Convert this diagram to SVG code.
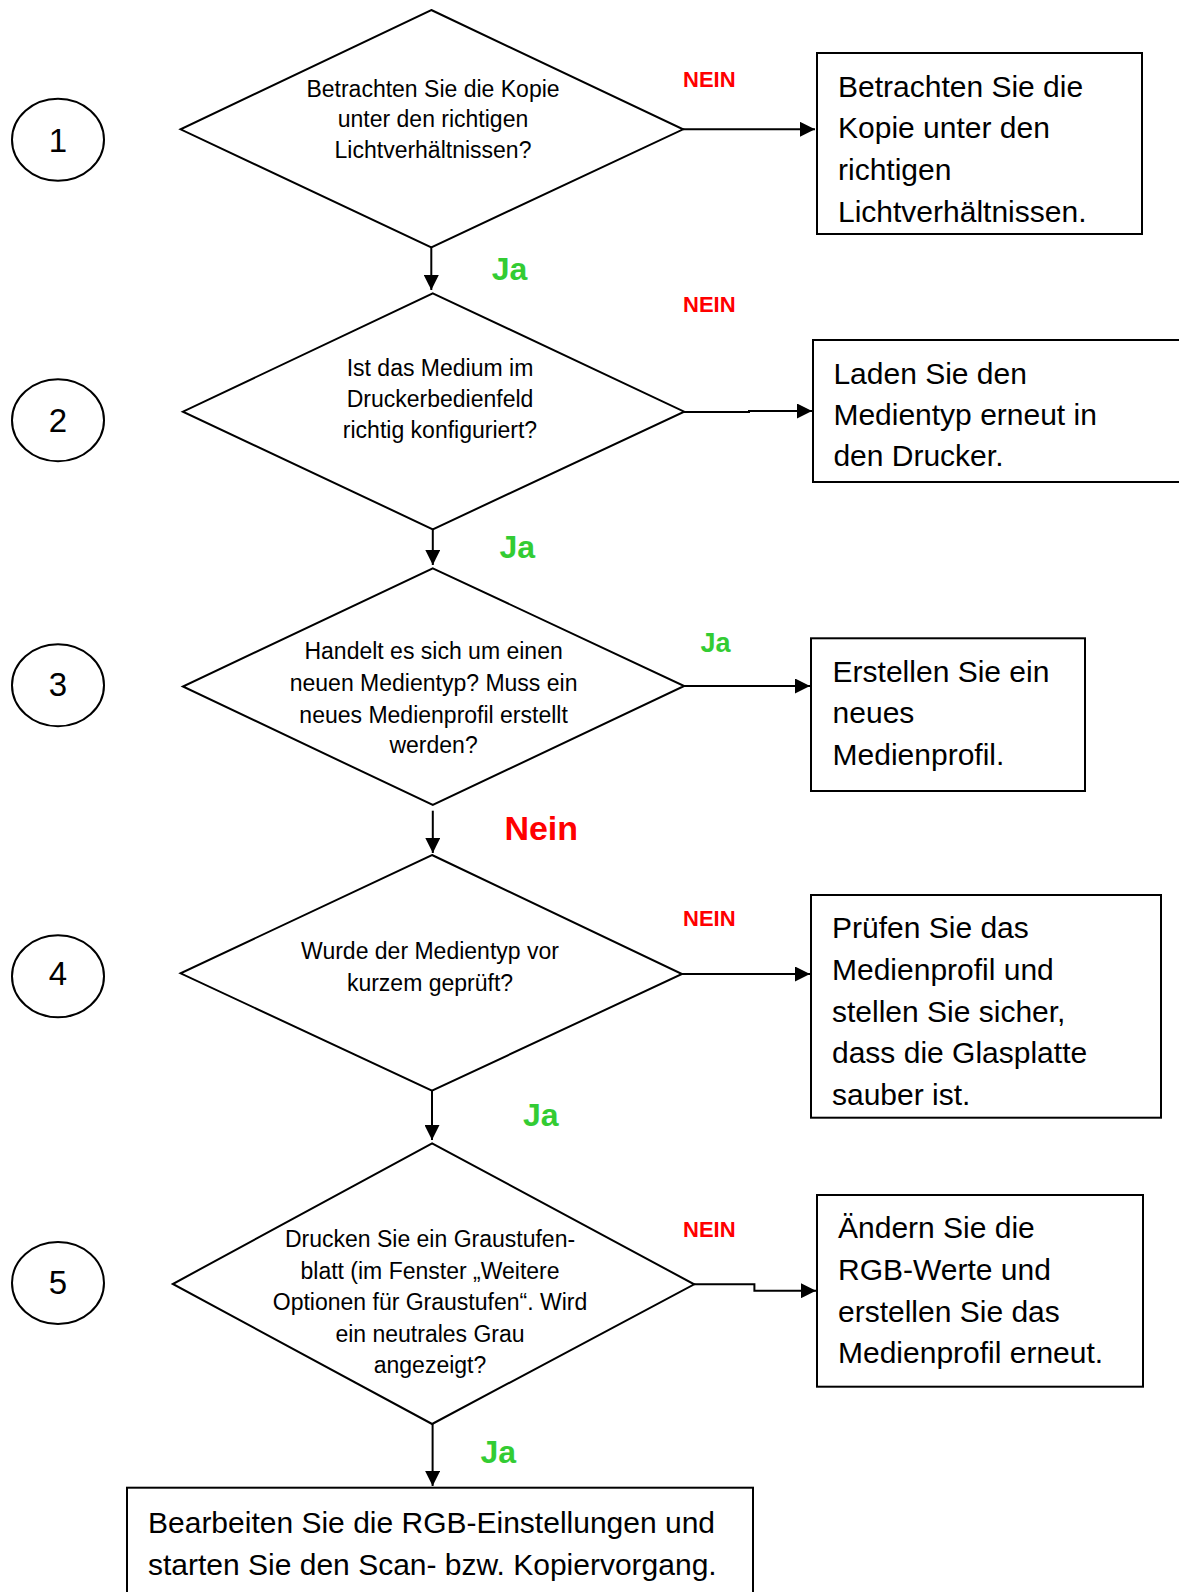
<svg xmlns="http://www.w3.org/2000/svg" width="1179" height="1592" viewBox="0 0 1179 1592">
<style>
.s{fill:none;stroke:#000;stroke-width:2}
.c{fill:none;stroke:#000;stroke-width:2}
text{font-family:"Liberation Sans",Arial,sans-serif;fill:#000}
.dt{font-size:23px;text-anchor:middle}
.bt{font-size:30px}
.num{font-size:33px;text-anchor:middle}
.no{font-size:22px;font-weight:bold;fill:#f00}
.nein{font-size:34px;font-weight:bold;fill:#f00}
.yes{font-weight:bold;fill:#33cc33}
</style>
<defs>
<marker id="ah" viewBox="0 0 15 15" refX="15" refY="7.5" markerWidth="15" markerHeight="15" markerUnits="userSpaceOnUse" orient="auto">
<path d="M0,0 L15,7.5 L0,15 z" fill="#000"/>
</marker>
</defs>
<rect width="1179" height="1592" fill="#fff"/>

<g id="step1"><ellipse class="s" cx="58" cy="139.7" rx="46" ry="41"/><text class="num" x="58" y="152">1</text></g>
<g id="step2"><ellipse class="s" cx="58" cy="420.3" rx="46" ry="41"/><text class="num" x="58" y="432">2</text></g>
<g id="step3"><ellipse class="s" cx="58" cy="685.3" rx="46" ry="41"/><text class="num" x="58" y="696">3</text></g>
<g id="step4"><ellipse class="s" cx="58" cy="976.3" rx="46" ry="41"/><text class="num" x="58" y="985">4</text></g>
<g id="step5"><ellipse class="s" cx="58" cy="1283" rx="46" ry="41"/><text class="num" x="58" y="1294">5</text></g>

<g id="d1"><polygon class="s" points="431.3,10 683.1,129.3 431.3,247.3 180.6,129.3"/>
<text class="dt" x="433" y="96.7">Betrachten Sie die Kopie</text>
<text class="dt" x="433" y="127">unter den richtigen</text>
<text class="dt" x="433" y="158">Lichtverhältnissen?</text></g>

<g id="d2"><polygon class="s" points="432.8,293.3 684.2,411.7 432.8,529.3 182.9,411.7"/>
<text class="dt" x="440" y="376">Ist das Medium im</text>
<text class="dt" x="440" y="407.3">Druckerbedienfeld</text>
<text class="dt" x="440" y="438.3">richtig konfiguriert?</text></g>

<g id="d3"><polygon class="s" points="432.8,568.3 684.2,686 432.8,805 182.9,686.5"/>
<text class="dt" x="433.6" y="659.3">Handelt es sich um einen</text>
<text class="dt" x="433.6" y="691">neuen Medientyp? Muss ein</text>
<text class="dt" x="433.6" y="722.7">neues Medienprofil erstellt</text>
<text class="dt" x="433.6" y="753.3">werden?</text></g>

<g id="d4"><polygon class="s" points="432,855 682,974 432,1090.7 180.6,973.3"/>
<text class="dt" x="430" y="959.3">Wurde der Medientyp vor</text>
<text class="dt" x="430" y="990.7">kurzem geprüft?</text></g>

<g id="d5"><polygon class="s" points="432.1,1143.3 694.2,1284.3 432.1,1424 172.8,1284"/>
<text class="dt" x="430" y="1247.3">Drucken Sie ein Graustufen-</text>
<text class="dt" x="430" y="1279">blatt (im Fenster „Weitere</text>
<text class="dt" x="430" y="1310">Optionen für Graustufen“. Wird</text>
<text class="dt" x="430" y="1341.7">ein neutrales Grau</text>
<text class="dt" x="430" y="1372.7">angezeigt?</text></g>

<g id="b1"><rect class="s" x="817" y="53" width="325" height="181"/>
<text class="bt" x="838" y="96.7">Betrachten Sie die</text>
<text class="bt" x="838" y="138.3">Kopie unter den</text>
<text class="bt" x="838" y="180">richtigen</text>
<text class="bt" x="838" y="221.7">Lichtverhältnissen.</text></g>

<g id="b2"><rect class="s" x="813" y="340" width="380" height="142"/>
<text class="bt" x="833.4" y="384">Laden Sie den</text>
<text class="bt" x="833.4" y="425">Medientyp erneut in</text>
<text class="bt" x="833.4" y="466">den Drucker.</text></g>

<g id="b3"><rect class="s" x="811" y="638.3" width="274" height="152.7"/>
<text class="bt" x="832.6" y="681.7">Erstellen Sie ein</text>
<text class="bt" x="832.6" y="723.3">neues</text>
<text class="bt" x="832.6" y="765">Medienprofil.</text></g>

<g id="b4"><rect class="s" x="811" y="895" width="350" height="222.7"/>
<text class="bt" x="832" y="938.3">Prüfen Sie das</text>
<text class="bt" x="832" y="980">Medienprofil und</text>
<text class="bt" x="832" y="1021.7">stellen Sie sicher,</text>
<text class="bt" x="832" y="1063.3">dass die Glasplatte</text>
<text class="bt" x="832" y="1105">sauber ist.</text></g>

<g id="b5"><rect class="s" x="817" y="1195" width="326" height="191.7"/>
<text class="bt" x="838" y="1238.3">Ändern Sie die</text>
<text class="bt" x="838" y="1280">RGB-Werte und</text>
<text class="bt" x="838" y="1321.7">erstellen Sie das</text>
<text class="bt" x="838" y="1363.3">Medienprofil erneut.</text></g>

<g id="b6"><rect class="s" x="127" y="1487.7" width="626" height="130"/>
<text class="bt" x="148" y="1533.3">Bearbeiten Sie die RGB-Einstellungen und</text>
<text class="bt" x="148" y="1575">starten Sie den Scan- bzw. Kopiervorgang.</text></g>

<g id="connectors">
<path class="c" d="M431.3,247.3 V290" marker-end="url(#ah)"/>
<path class="c" d="M432.8,529.3 V565" marker-end="url(#ah)"/>
<path class="c" d="M432.8,810.7 V853" marker-end="url(#ah)"/>
<path class="c" d="M432,1090.7 V1140" marker-end="url(#ah)"/>
<path class="c" d="M432.6,1424 V1486" marker-end="url(#ah)"/>
<path class="c" d="M683,129.3 H815" marker-end="url(#ah)"/>
<path class="c" d="M684,412 H749 V411 H812" marker-end="url(#ah)"/>
<path class="c" d="M684,686 H810" marker-end="url(#ah)"/>
<path class="c" d="M682,974 H810" marker-end="url(#ah)"/>
<path class="c" d="M694,1284.3 H754.4 V1290.7 H816" marker-end="url(#ah)"/>
<text class="no" x="683" y="86.7">NEIN</text>
<text class="no" x="683" y="311.7">NEIN</text>
<text class="no" x="683" y="926">NEIN</text>
<text class="no" x="683" y="1237.3">NEIN</text>
<text class="yes" x="491.7" y="280" font-size="32">Ja</text>
<text class="yes" x="499.4" y="558.3" font-size="32">Ja</text>
<text class="yes" x="700.4" y="651.7" font-size="27">Ja</text>
<text class="yes" x="523" y="1126" font-size="32">Ja</text>
<text class="yes" x="480.4" y="1463.3" font-size="32">Ja</text>
<text class="nein" x="504.4" y="840">Nein</text>
</g>
</svg>
